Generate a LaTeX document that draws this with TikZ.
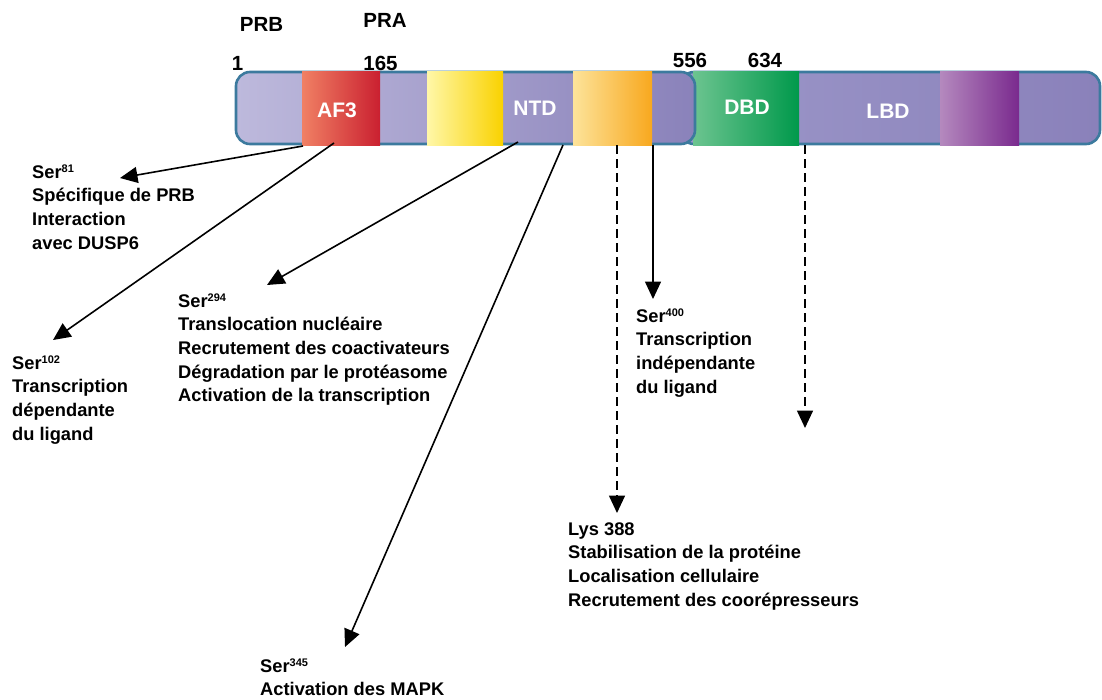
\documentclass[tikz,border=0pt]{standalone}
\usepackage{fontspec}
\setmainfont{Liberation Sans}
\usetikzlibrary{arrows.meta}
\definecolor{outl}{HTML}{3C7A9E}
\definecolor{lavL}{HTML}{BDB9DC}
\definecolor{lavR}{HTML}{8A82BA}
\definecolor{lav2L}{HTML}{9C97C9}
\definecolor{lav2R}{HTML}{8A81BA}
\definecolor{redA}{HTML}{F08064}
\definecolor{redB}{HTML}{E8192B}
\definecolor{redC}{HTML}{CA2030}
\definecolor{yelA}{HTML}{FFF7A8}
\definecolor{yelB}{HTML}{FFEB00}
\definecolor{yelC}{HTML}{F9D200}
\definecolor{orA}{HTML}{FDE39A}
\definecolor{orB}{HTML}{FCBF13}
\definecolor{orC}{HTML}{F8A81E}
\definecolor{grA}{HTML}{6CC490}
\definecolor{grB}{HTML}{00A651}
\definecolor{grC}{HTML}{00994B}
\definecolor{puA}{HTML}{B489BE}
\definecolor{puB}{HTML}{9855A4}
\definecolor{puC}{HTML}{7A2A8E}
\newcommand{\sups}[1]{\raisebox{5.5pt}{\fontsize{11}{12}\selectfont #1}}
\begin{document}
\begin{tikzpicture}[x=1pt,y=-1pt,
  lbl/.style={inner sep=0, anchor=base west, font=\fontsize{18.3}{23.7}\selectfont\bfseries},
  num/.style={inner sep=0, anchor=base, font=\fontsize{20.5}{24}\selectfont\bfseries},
  dom/.style={inner sep=0, anchor=base, text=white, font=\fontsize{21}{24}\selectfont\bfseries},
  conn/.style={line width=1.6pt, -{Triangle[length=17.5pt,width=16pt]}},
  dconn/.style={conn, dash pattern=on 9pt off 5pt},
  barline/.style={draw=outl, line width=2.6pt, rounded corners=14pt}]
\useasboundingbox (0,0) rectangle (1102,699);
% right bar (DBD + LBD)
\shade[left color=lav2L, right color=lav2R, rounded corners=14pt] (680,72) rectangle (1100,144);
\draw[barline] (680,72) rectangle (1100,144);
\shade[left color=grA, middle color=grB, right color=grC] (693,71) rectangle (799,145);
\shade[left color=puA, middle color=puB, right color=puC] (940,71) rectangle (1019,145);
% left bar (NTD)
\shade[left color=lavL, right color=lavR, rounded corners=14pt] (236,72) rectangle (695,144);
\draw[barline] (236,72) rectangle (695,144);
\shade[left color=redA, middle color=redB, right color=redC] (302,71) rectangle (380,145);
\shade[left color=yelA, middle color=yelB, right color=yelC] (427,71) rectangle (503,145);
\shade[left color=orA, middle color=orB, right color=orC] (573,71) rectangle (652,145);
% domain labels
\node[dom] (af3) at (337,117) {AF3};
\node[dom] (ntd) at (535,115) {NTD};
\node[dom] (dbd) at (747,114) {DBD};
\node[dom] (lbd) at (888,118) {LBD};
% top labels
\node[num] (prb) at (261.5,31) {PRB};
\node[num] (pra) at (385,27) {PRA};
\node[num] (n1) at (237.5,70) {1};
\node[num] (n165) at (380.5,70) {165};
\node[num] (n556) at (690,67) {556};
\node[num] (n634) at (765,67) {634};
% text blocks
\node[lbl] (ser81) at (32,178) {\begin{tabular}[t]{@{}l@{}}Ser\sups{81}\\Spécifique de PRB\\Interaction\\avec DUSP6\end{tabular}};
\node[lbl] (ser102) at (12,369) {\begin{tabular}[t]{@{}l@{}}Ser\sups{102}\\Transcription\\dépendante\\du ligand\end{tabular}};
\node[lbl] (ser294) at (178,307) {\begin{tabular}[t]{@{}l@{}}Ser\sups{294}\\Translocation nucléaire\\Recrutement des coactivateurs\\Dégradation par le protéasome\\Activation de la transcription\end{tabular}};
\node[lbl] (ser400) at (636,322) {\begin{tabular}[t]{@{}l@{}}Ser\sups{400}\\Transcription\\indépendante\\du ligand\end{tabular}};
\node[lbl] (lys388) at (568,535) {\begin{tabular}[t]{@{}l@{}}Lys 388\\Stabilisation de la protéine\\Localisation cellulaire\\Recrutement des coorépresseurs\end{tabular}};
\node[lbl] (ser345) at (260,672) {\begin{tabular}[t]{@{}l@{}}Ser\sups{345}\\Activation des MAPK\end{tabular}};
% connector end points
\coordinate (s81) at (303,146);
\coordinate (t81) at (120,178);
\coordinate (s102) at (334,143);
\coordinate (t102) at (53,340);
\coordinate (s294) at (518,142);
\coordinate (t294) at (267,285);
\coordinate (s345) at (563,145);
\coordinate (t345) at (345,647);
\coordinate (s388) at (617,145);
\coordinate (t388) at (617,513);
\coordinate (s400) at (653,145);
\coordinate (t400) at (653,299);
\coordinate (slbd) at (805,145);
\coordinate (tlbd) at (805,428);
% connectors
\draw[conn] (s81) -- (t81);
\draw[conn] (s102) -- (t102);
\draw[conn] (s294) -- (t294);
\draw[conn] (s345) -- (t345);
\draw[dconn] (s388) -- (t388);
\draw[conn] (s400) -- (t400);
\draw[dconn] (slbd) -- (tlbd);
\end{tikzpicture}
\end{document}
